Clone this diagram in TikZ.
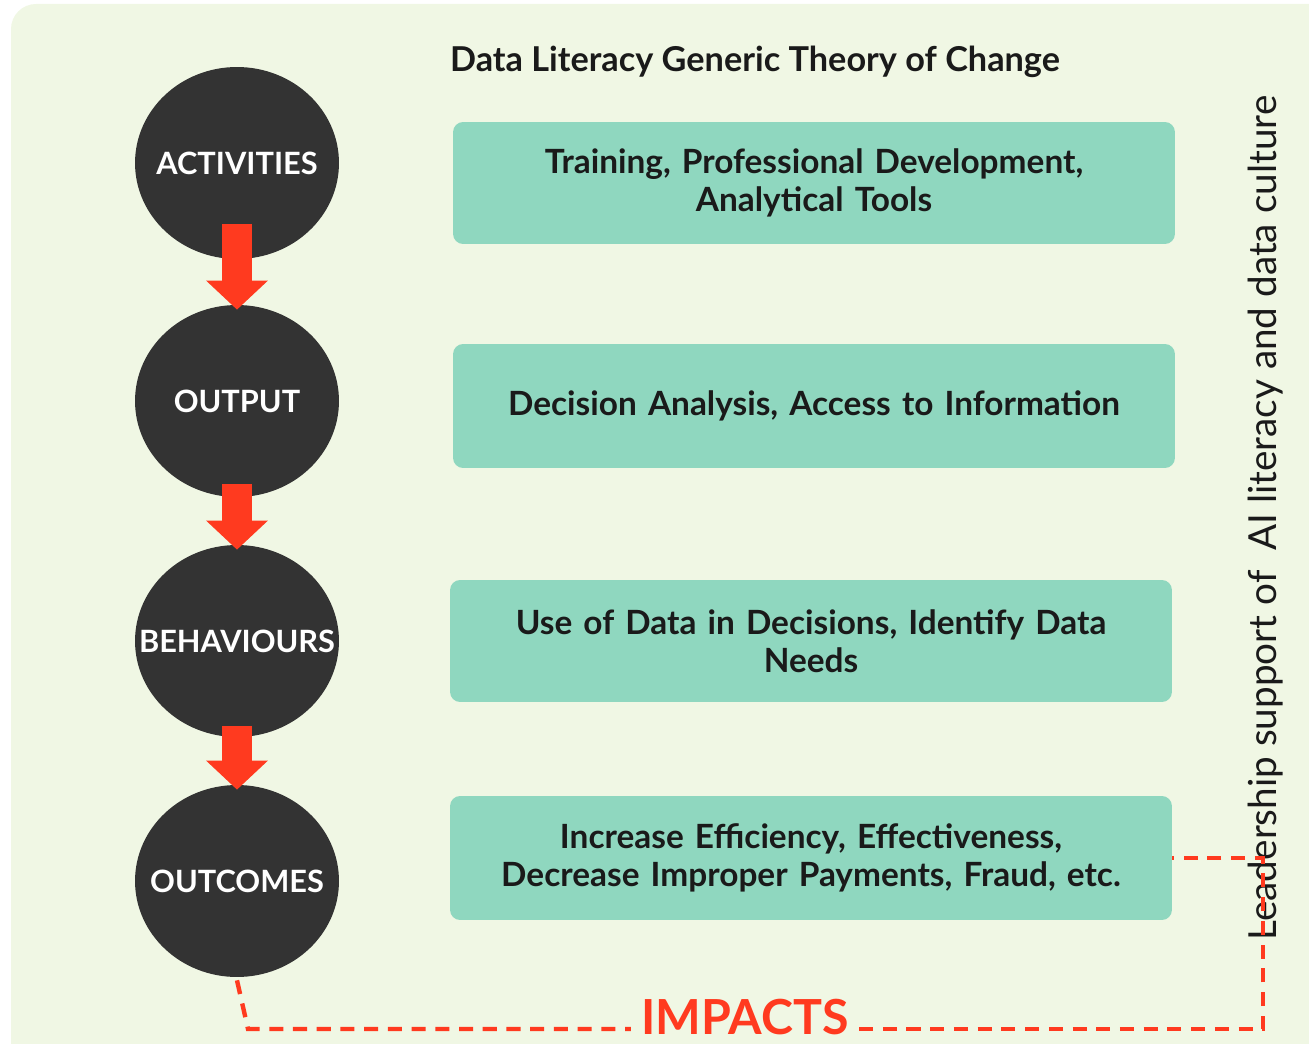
\documentclass[tikz,border=0pt]{standalone}
\usepackage{fontspec}
\setmainfont{Lato}
\usetikzlibrary{shapes.geometric,arrows.meta}
\definecolor{bgcream}{HTML}{F0F7E4}
\definecolor{stagedark}{HTML}{333333}
\definecolor{boxmint}{HTML}{8FD7BF}
\definecolor{impactred}{HTML}{FF3A1F}
\definecolor{inkblack}{HTML}{1A1A1A}
\newcommand{\stagelabel}[1]{\makebox[0pt]{#1}}
\tikzset{stage/.style={ellipse, fill=stagedark, minimum width=4.08cm, minimum height=3.84cm,
    inner sep=0pt, text=white, font=\bfseries\fontsize{17.5}{20}\selectfont}}
\tikzset{detail/.style={rectangle, rounded corners=0.2cm, fill=boxmint, minimum width=14.44cm,
    minimum height=2.44cm, text width=13.9cm, align=center, text=inkblack,
    font=\bfseries\fontsize{19}{21.6}\selectfont}}
\tikzset{flow/.style={impactred, line width=0.62cm, -{Triangle[length=0.58cm,width=1.2cm]}}}
\tikzset{impactline/.style={impactred, line width=2.5pt, dash pattern=on 8pt off 5.5pt}}

\begin{document}
\begin{tikzpicture}[x=0.02cm,y=-0.02cm]
\clip (0,0) rectangle (1309,1044);
\fill[bgcream, rounded corners=0.5cm] (11,4) rectangle (1340,1070);

% title
\node[text=inkblack, font=\bfseries\fontsize{19.5}{22}\selectfont] (title) at (755,62)
  {Data Literacy Generic Theory of Change};

% stages on the left
\node[stage] (act) at (237,163) {\stagelabel{ACTIVITIES}};
\node[stage] (out) at (237,401) {\stagelabel{OUTPUT}};
\node[stage] (beh) at (237,641) {\stagelabel{BEHAVIOURS}};
\node[stage] (res) at (237,881) {\stagelabel{OUTCOMES}};

\draw[flow] ([yshift=-1.22cm]act.center) -- ([yshift=-0.1cm]out.north);
\draw[flow] ([yshift=-1.66cm]out.center) -- ([yshift=-0.1cm]beh.north);
\draw[flow] ([yshift=-1.7cm]beh.center) -- ([yshift=-0.1cm]res.north);

% detail boxes
\node[detail] (train) at (814,183) {Training, Professional Development,\\ Analytical Tools};
\node[detail, minimum height=2.48cm] (dec) at (814,406) {Decision Analysis, Access to Information};
\node[detail] (use) at (811,641) {Use of Data in Decisions, Identify Data\\ Needs};
\node[detail, minimum height=2.48cm] (gain) at (811,858) {Increase Efficiency, Effectiveness,\\ Decrease Improper Payments, Fraud, etc.};

% side label
\node[rotate=90, text=inkblack, font=\fontsize{22}{26}\selectfont] (lead) at (1266,518)
  {Leadership support of~~AI literacy and data culture};

% impacts loop
\node[text=impactred, font=\bfseries\fontsize{27.5}{30}\selectfont, inner xsep=0.2cm] (imp) at (745,1017) {IMPACTS};
\coordinate (lowleft) at (248,1029);
\coordinate (lowright) at (1263,1029);
\coordinate (upright) at (1263,858);
\draw[impactline] ([yshift=-0.06cm]res.south) -- (lowleft) -- (lowleft -| imp.west);
\draw[impactline] (lowright -| imp.east) -- (lowright) -- (upright) -- (gain.east);
\end{tikzpicture}
\end{document}
